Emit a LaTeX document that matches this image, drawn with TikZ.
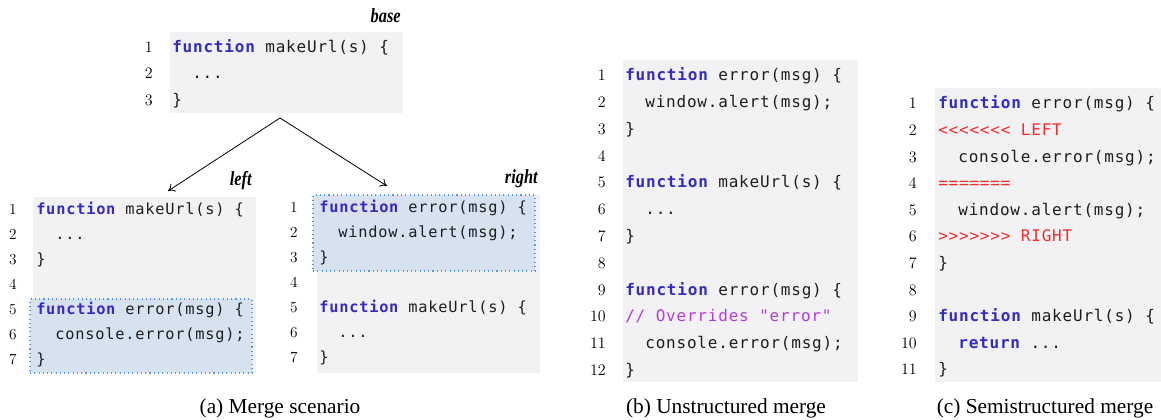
\documentclass[tikz,border=0pt]{standalone}
\usepackage{fontspec}
\usetikzlibrary{arrows.meta,fit}
\newfontfamily\codefont[LetterSpace=5]{DejaVu Sans Mono}
\newfontfamily\capfont{Liberation Serif}
\definecolor{bggray}{RGB}{242,242,245}
\definecolor{hlblue}{RGB}{214,226,240}
\definecolor{hlborder}{RGB}{90,150,225}
\definecolor{kwblue}{RGB}{52,42,200}
\definecolor{cmtpurple}{RGB}{180,60,220}
\definecolor{confred}{RGB}{255,40,40}
\definecolor{codetext}{RGB}{30,30,30}
\newcommand\kw[1]{\textcolor{kwblue}{\bfseries #1}}
\newcommand\ind{\hphantom{xx}}
\newcommand\lbltext[1]{\scalebox{0.82}[1]{#1}}
\newcommand\cln[5]{\node[#2num] (#1n) at (\nx,#3) {#4};\node[#2] (#1) at (\tx,#3) {#5};}
\newcommand\nln[4]{\node[#2num] (#1n) at (\nx,#3) {#4};}
\begin{document}
\begin{tikzpicture}[x=0.75pt,y=-0.75pt,
  code/.style={anchor=base west,inner sep=0pt,text=codetext,font=\codefont\fontsize{12}{14}\selectfont},
  codesm/.style={code,font=\codefont\fontsize{11.5}{13}\selectfont},
  codenum/.style={anchor=base east,inner sep=0pt,font=\fontsize{12}{14}\selectfont},
  codesmnum/.style={anchor=base east,inner sep=0pt,font=\fontsize{11.5}{13}\selectfont},
  bgbox/.style={inner sep=0pt,fill=bggray,draw=none},
  hlbox/.style={inner sep=0pt,fill=hlblue,draw=hlborder,line width=0.8pt,dash pattern=on 0.8pt off 2.4pt},
  lbl/.style={anchor=base east,inner sep=0pt,font=\capfont\fontsize{15}{17}\selectfont\bfseries\itshape},
  captext/.style={anchor=base,inner sep=0pt,font=\capfont\fontsize{16}{18}\selectfont},
  conn/.style={-{To[length=5pt,width=7pt]},line width=0.6pt}]
\useasboundingbox (0,0) rectangle (1161,420);
% backgrounds
\node[bgbox,fit={(170,32) (403,113)}] (baseBox) {};
\node[bgbox,fit={(33,197) (256,373)}] (leftBox) {};
\node[hlbox,fit={(30,299) (252,373)}] (leftHl) {};
\node[bgbox,fit={(317,195) (540,373)}] (rightBox) {};
\node[hlbox,fit={(313,195) (535,271)}] (rightHl) {};
\node[bgbox,fit={(623,60) (858,382)}] (unsBox) {};
\node[bgbox,fit={(935,88) (1161,382)}] (semBox) {};
% labels
\node[lbl] (lblBase) at (401,23) {\lbltext{base}};
\node[lbl] (lblLeft) at (252,186) {\lbltext{left}};
\node[lbl] (lblRight) at (538,184) {\lbltext{right}};
% arrows
\coordinate (apex) at (280,118);
\coordinate (lTip) at (168,191);
\coordinate (rTip) at (387,186);
\draw[conn] (apex) -- (lTip);
\draw[conn] (apex) -- (rTip);
% base
\def\nx{153}\def\tx{172}
\cln{b1}{code}{52.5}{1}{\kw{function} makeUrl(s) \{}
\cln{b2}{code}{79}{2}{\ind...}
\cln{b3}{code}{105.5}{3}{\}}
% left
\def\nx{17}\def\tx{36}
\cln{l1}{codesm}{215}{1}{\kw{function} makeUrl(s) \{}
\cln{l2}{codesm}{240}{2}{\ind...}
\cln{l3}{codesm}{265}{3}{\}}
\nln{l4}{codesm}{290}{4}
\cln{l5}{codesm}{315}{5}{\kw{function} error(msg) \{}
\cln{l6}{codesm}{340}{6}{\ind console.error(msg);}
\cln{l7}{codesm}{365}{7}{\}}
% right
\def\nx{298}\def\tx{319}
\cln{r1}{codesm}{213}{1}{\kw{function} error(msg) \{}
\cln{r2}{codesm}{238}{2}{\ind window.alert(msg);}
\cln{r3}{codesm}{263}{3}{\}}
\nln{r4}{codesm}{288}{4}
\cln{r5}{codesm}{313}{5}{\kw{function} makeUrl(s) \{}
\cln{r6}{codesm}{338}{6}{\ind...}
\cln{r7}{codesm}{363}{7}{\}}
% unstructured
\def\nx{606}\def\tx{625}
\cln{u1}{code}{80.7}{1}{\kw{function} error(msg) \{}
\cln{u2}{code}{107.5}{2}{\ind window.alert(msg);}
\cln{u3}{code}{134.3}{3}{\}}
\nln{u4}{code}{161.1}{4}
\cln{u5}{code}{187.9}{5}{\kw{function} makeUrl(s) \{}
\cln{u6}{code}{214.7}{6}{\ind...}
\cln{u7}{code}{241.5}{7}{\}}
\nln{u8}{code}{268.3}{8}
\cln{u9}{code}{295.1}{9}{\kw{function} error(msg) \{}
\cln{u10}{code}{321.9}{10}{\textcolor{cmtpurple}{// Overrides "error"}}
\cln{u11}{code}{348.7}{11}{\ind console.error(msg);}
\cln{u12}{code}{375.5}{12}{\}}
% semistructured
\def\nx{917}\def\tx{938}
\cln{s1}{code}{109}{1}{\kw{function} error(msg) \{}
\cln{s2}{code}{135.6}{2}{\textcolor{confred}{<<<<<<< LEFT}}
\cln{s3}{code}{162.2}{3}{\ind console.error(msg);}
\cln{s4}{code}{188.8}{4}{\textcolor{confred}{=======}}
\cln{s5}{code}{215.4}{5}{\ind window.alert(msg);}
\cln{s6}{code}{242}{6}{\textcolor{confred}{>>>>>>> RIGHT}}
\cln{s7}{code}{268.6}{7}{\}}
\nln{s8}{code}{295.2}{8}
\cln{s9}{code}{321.8}{9}{\kw{function} makeUrl(s) \{}
\cln{s10}{code}{348.4}{10}{\ind\kw{return} ...}
\cln{s11}{code}{375}{11}{\}}
% captions
\node[captext] (capA) at (280,414) {(a) Merge scenario};
\node[captext] (capB) at (726,414) {(b) Unstructured merge};
\node[captext] (capC) at (1045,414) {(c) Semistructured merge};
\end{tikzpicture}
\end{document}
